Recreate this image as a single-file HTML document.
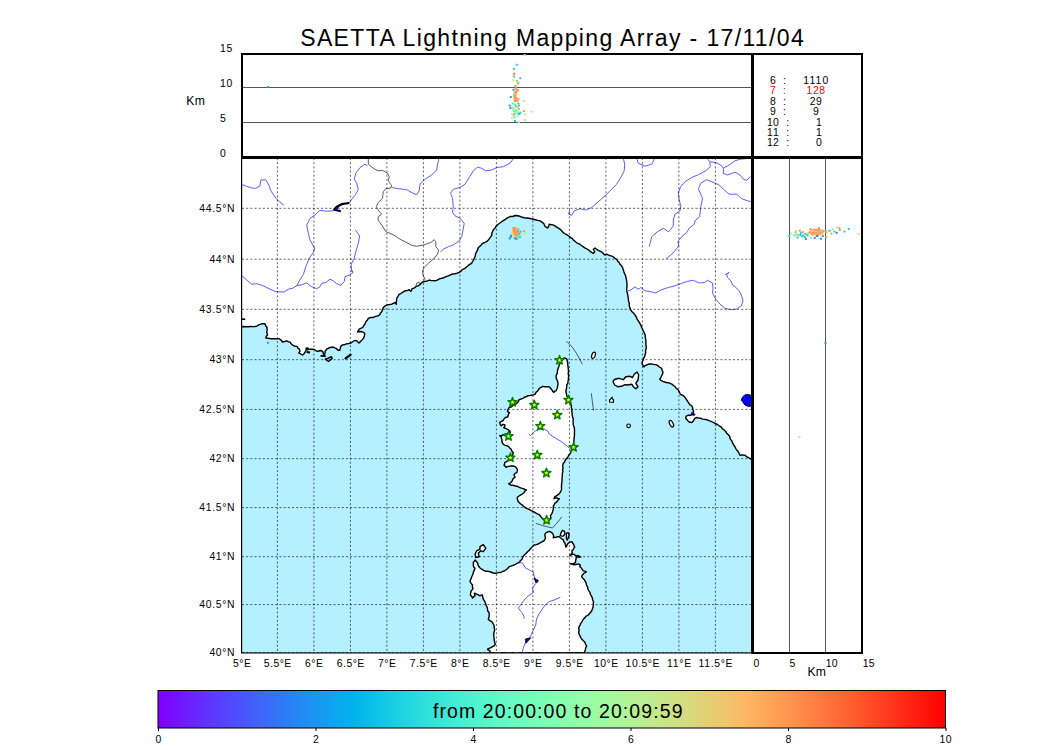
<!DOCTYPE html>
<html><head><meta charset="utf-8"><title>SAETTA Lightning Mapping Array</title>
<style>html,body{margin:0;padding:0;background:#fff;}body{width:1050px;height:750px;overflow:hidden;font-family:"Liberation Sans",sans-serif;}svg{display:block;}text{font-family:"Liberation Sans",sans-serif;fill:#000;}</style></head><body>
<svg width="1050" height="750" viewBox="0 0 1050 750">
<rect width="1050" height="750" fill="#fff"/>
<defs><clipPath id="mapclip"><rect x="242" y="158" width="510" height="495"/></clipPath>
<linearGradient id="rb" x1="0" x2="1" y1="0" y2="0"><stop offset="0.000" stop-color="#8000ff"/><stop offset="0.031" stop-color="#7019ff"/><stop offset="0.062" stop-color="#6032fe"/><stop offset="0.094" stop-color="#504afc"/><stop offset="0.125" stop-color="#4062fa"/><stop offset="0.156" stop-color="#3078f7"/><stop offset="0.188" stop-color="#208ef4"/><stop offset="0.219" stop-color="#10a2f0"/><stop offset="0.250" stop-color="#00b4ec"/><stop offset="0.281" stop-color="#10c5e7"/><stop offset="0.312" stop-color="#20d4e1"/><stop offset="0.344" stop-color="#30e1db"/><stop offset="0.375" stop-color="#40ecd4"/><stop offset="0.406" stop-color="#50f4cd"/><stop offset="0.438" stop-color="#60fac5"/><stop offset="0.469" stop-color="#70febd"/><stop offset="0.500" stop-color="#80ffb4"/><stop offset="0.531" stop-color="#8ffeab"/><stop offset="0.562" stop-color="#9ffaa2"/><stop offset="0.594" stop-color="#aff498"/><stop offset="0.625" stop-color="#bfec8e"/><stop offset="0.656" stop-color="#cfe183"/><stop offset="0.688" stop-color="#dfd478"/><stop offset="0.719" stop-color="#efc56d"/><stop offset="0.750" stop-color="#ffb462"/><stop offset="0.781" stop-color="#ffa256"/><stop offset="0.812" stop-color="#ff8e4a"/><stop offset="0.844" stop-color="#ff783e"/><stop offset="0.875" stop-color="#ff6232"/><stop offset="0.906" stop-color="#ff4a25"/><stop offset="0.938" stop-color="#ff3219"/><stop offset="0.969" stop-color="#ff190d"/><stop offset="1.000" stop-color="#ff0000"/></linearGradient></defs>
<g clip-path="url(#mapclip)">
<rect x="242" y="158" width="510" height="495" fill="#b4f0ff"/>
<path d="M242.0 157.0 L752.0 157.0 L752.0 460.2 L750.3 458.6 L748.3 457.5 L746.5 456.6 L745.0 455.3 L742.5 454.9 L740.0 455.3 L739.1 453.5 L738.3 451.7 L736.9 450.2 L735.8 448.6 L735.0 446.7 L733.6 444.9 L732.6 442.9 L731.7 440.8 L730.2 438.9 L729.8 436.5 L728.3 434.7 L726.7 433.3 L725.7 431.4 L724.2 430.0 L722.5 428.7 L721.1 426.9 L719.2 425.8 L717.4 424.5 L715.3 423.5 L713.3 422.5 L711.2 421.4 L708.9 420.6 L706.7 419.7 L704.7 419.4 L702.7 419.1 L700.8 418.3 L698.7 418.1 L696.7 417.5 L695.3 418.1 L694.2 419.2 L693.3 421.1 L691.7 422.5 L689.9 422.3 L688.3 421.3 L687.1 419.8 L685.8 418.3 L685.8 416.9 L686.7 415.8 L688.7 415.2 L690.8 415.3 L691.8 414.0 L693.3 413.3 L693.6 411.6 L693.0 410.0 L692.6 407.8 L691.7 405.8 L690.2 405.0 L689.2 403.7 L688.0 401.8 L686.7 400.0 L685.5 398.1 L684.2 396.3 L682.3 395.2 L680.3 394.3 L679.6 392.6 L678.8 390.9 L677.8 389.4 L676.1 388.2 L674.9 386.5 L673.3 385.2 L671.8 384.1 L670.0 383.4 L668.3 382.7 L666.4 382.5 L664.6 382.0 L662.8 381.4 L661.1 380.5 L659.8 379.2 L660.8 377.7 L661.5 376.0 L662.5 374.1 L663.0 372.0 L662.1 370.3 L661.7 368.3 L659.4 367.0 L657.5 365.3 L655.6 364.6 L653.6 364.4 L651.7 363.9 L649.1 364.0 L646.7 364.8 L645.1 365.7 L643.9 367.0 L643.0 365.3 L642.0 363.6 L642.3 361.7 L643.3 360.0 L643.7 358.3 L644.6 356.7 L645.0 355.0 L645.7 352.8 L645.5 350.5 L646.2 348.3 L646.2 346.2 L645.7 344.2 L646.0 342.1 L645.8 340.0 L645.4 337.5 L645.1 334.9 L644.2 332.5 L643.2 330.9 L642.6 329.1 L641.7 327.5 L640.8 325.1 L639.6 322.9 L638.3 320.8 L637.0 319.0 L636.3 316.8 L635.0 315.0 L633.7 313.2 L632.0 311.8 L630.8 310.0 L629.9 307.9 L629.2 305.8 L629.3 303.2 L628.4 300.8 L628.3 298.3 L627.9 295.8 L627.4 293.3 L626.7 290.8 L626.7 288.6 L627.0 286.4 L627.0 284.2 L626.8 281.7 L626.3 279.2 L625.8 276.7 L625.3 274.9 L624.4 273.3 L623.8 271.5 L623.2 269.5 L622.5 267.5 L621.6 265.7 L620.0 264.4 L619.2 262.5 L617.7 261.2 L616.7 259.4 L615.0 258.3 L613.1 256.7 L610.8 255.8 L608.7 255.2 L606.7 254.2 L605.0 255.0 L603.6 253.9 L602.5 252.5 L600.5 251.3 L598.3 250.3 L596.6 249.3 L595.0 248.0 L593.3 249.2 L594.0 250.5 L594.7 251.7 L593.3 253.3 L591.6 252.4 L590.0 251.3 L588.1 249.5 L585.8 248.3 L584.1 247.3 L582.4 246.2 L580.8 245.0 L579.3 243.8 L577.5 243.3 L576.1 242.3 L574.7 241.0 L573.3 240.0 L572.2 238.4 L570.5 237.6 L569.2 236.3 L567.9 235.5 L566.7 234.7 L564.4 233.5 L562.5 231.7 L561.2 230.3 L559.9 229.1 L558.3 228.0 L556.5 227.2 L555.0 225.9 L553.3 225.0 L551.2 224.6 L549.2 224.2 L548.7 226.3 L547.5 228.0 L546.2 227.2 L545.0 226.3 L544.3 224.8 L543.7 223.3 L541.8 222.1 L540.0 220.8 L537.7 220.4 L535.5 219.8 L533.3 219.2 L531.1 218.8 L528.9 218.3 L526.7 218.0 L524.4 217.8 L522.1 217.3 L520.0 216.3 L517.5 215.7 L515.0 215.5 L512.9 216.5 L510.4 216.4 L508.3 217.5 L506.5 218.3 L505.1 219.7 L503.3 220.6 L501.7 221.7 L499.6 223.2 L497.5 224.7 L495.8 226.7 L494.8 228.4 L493.3 229.8 L492.5 231.7 L491.8 233.3 L491.8 235.2 L490.8 236.7 L489.6 238.4 L488.3 240.0 L486.9 241.4 L485.1 242.3 L483.3 243.0 L481.8 244.1 L480.7 245.6 L479.2 246.7 L478.0 248.2 L477.6 250.1 L476.7 251.7 L475.5 253.8 L475.3 256.2 L474.2 258.3 L473.6 260.1 L472.4 261.6 L471.7 263.3 L469.6 264.4 L467.7 266.0 L465.8 267.5 L464.7 268.6 L463.3 269.2 L461.8 270.0 L460.8 271.3 L459.0 272.5 L457.1 273.2 L455.0 273.7 L452.6 274.0 L450.5 274.9 L448.3 275.8 L446.1 276.7 L444.0 277.7 L441.7 278.3 L439.4 278.9 L437.3 280.1 L435.0 280.8 L433.1 280.6 L431.1 280.6 L429.2 280.0 L427.3 281.0 L425.4 281.4 L423.3 281.7 L421.4 283.0 L420.0 284.7 L418.0 285.8 L415.8 286.7 L414.1 288.1 L412.0 288.7 L411.7 290.1 L410.8 291.3 L409.2 289.7 L407.2 290.6 L405.0 290.8 L403.4 291.9 L401.7 292.8 L400.6 293.8 L399.2 294.2 L398.0 296.3 L396.7 298.3 L396.6 300.3 L396.3 302.2 L396.3 304.2 L395.0 302.5 L393.3 303.3 L391.7 304.2 L389.2 304.6 L386.7 305.0 L384.9 306.1 L383.3 307.5 L382.6 309.6 L381.7 311.7 L380.5 313.0 L379.8 314.7 L378.3 315.8 L376.6 316.1 L374.9 316.6 L373.3 317.5 L370.7 317.5 L368.3 318.3 L367.3 320.2 L365.8 321.7 L365.3 323.5 L364.1 325.0 L363.3 326.7 L361.4 328.2 L359.2 329.2 L358.3 330.6 L357.5 332.0 L359.6 331.5 L361.7 331.7 L363.3 332.3 L364.7 333.3 L364.4 335.9 L363.5 338.3 L362.0 340.0 L360.5 341.5 L359.0 343.0 L357.9 342.1 L357.0 340.9 L354.8 340.5 L352.9 341.5 L351.0 343.0 L348.7 343.5 L347.1 343.8 L345.6 344.1 L344.2 344.8 L342.6 344.9 L340.7 346.4 L340.3 348.3 L339.9 350.2 L338.0 350.2 L336.5 348.7 L334.2 347.6 L332.9 347.0 L331.5 347.3 L330.2 347.5 L328.9 348.0 L326.6 349.1 L325.9 350.3 L325.0 351.4 L325.1 352.7 L324.7 354.0 L323.9 355.6 L323.5 354.4 L323.1 352.1 L321.6 350.8 L320.3 350.5 L319.0 351.0 L317.6 351.2 L316.3 351.0 L314.4 349.5 L312.1 349.1 L310.6 349.3 L309.0 349.1 L307.7 349.5 L306.4 349.9 L305.2 351.8 L304.1 353.7 L302.6 355.0 L300.7 354.0 L298.8 352.9 L299.9 351.4 L299.5 349.1 L298.0 348.3 L297.2 346.4 L295.3 346.4 L293.0 345.3 L291.1 343.8 L290.0 341.9 L288.2 341.7 L286.7 340.8 L284.6 341.5 L282.5 342.0 L281.1 340.1 L279.2 338.7 L277.2 338.8 L275.3 338.7 L273.3 338.7 L270.8 338.8 L268.3 338.2 L265.8 338.0 L266.3 336.3 L267.5 335.0 L267.3 333.7 L266.7 332.5 L267.1 330.0 L267.0 327.5 L265.7 325.8 L265.0 323.8 L262.9 323.6 L260.8 324.2 L258.6 324.9 L256.7 326.3 L254.6 326.5 L252.5 326.6 L250.4 326.5 L248.3 326.7 L246.2 326.7 L244.1 326.5 L242.0 326.7 Z" fill="#fff" stroke="none"/>
<path d="M242.0 326.7 L244.1 326.5 L246.2 326.7 L248.3 326.7 L250.4 326.5 L252.5 326.6 L254.6 326.5 L256.7 326.3 L258.6 324.9 L260.8 324.2 L262.9 323.6 L265.0 323.8 L265.7 325.8 L267.0 327.5 L267.1 330.0 L266.7 332.5 L267.3 333.7 L267.5 335.0 L266.3 336.3 L265.8 338.0 L268.3 338.2 L270.8 338.8 L273.3 338.7 L275.3 338.7 L277.2 338.8 L279.2 338.7 L281.1 340.1 L282.5 342.0 L284.6 341.5 L286.7 340.8 L288.2 341.7 L290.0 341.9 L291.1 343.8 L293.0 345.3 L295.3 346.4 L297.2 346.4 L298.0 348.3 L299.5 349.1 L299.9 351.4 L298.8 352.9 L300.7 354.0 L302.6 355.0 L304.1 353.7 L305.2 351.8 L306.4 349.9 L307.7 349.5 L309.0 349.1 L310.6 349.3 L312.1 349.1 L314.4 349.5 L316.3 351.0 L317.6 351.2 L319.0 351.0 L320.3 350.5 L321.6 350.8 L323.1 352.1 L323.5 354.4 L323.9 355.6 L324.7 354.0 L325.1 352.7 L325.0 351.4 L325.9 350.3 L326.6 349.1 L328.9 348.0 L330.2 347.5 L331.5 347.3 L332.9 347.0 L334.2 347.6 L336.5 348.7 L338.0 350.2 L339.9 350.2 L340.3 348.3 L340.7 346.4 L342.6 344.9 L344.2 344.8 L345.6 344.1 L347.1 343.8 L348.7 343.5 L351.0 343.0 L352.9 341.5 L354.8 340.5 L357.0 340.9 L357.9 342.1 L359.0 343.0 L360.5 341.5 L362.0 340.0 L363.5 338.3 L364.4 335.9 L364.7 333.3 L363.3 332.3 L361.7 331.7 L359.6 331.5 L357.5 332.0 L358.3 330.6 L359.2 329.2 L361.4 328.2 L363.3 326.7 L364.1 325.0 L365.3 323.5 L365.8 321.7 L367.3 320.2 L368.3 318.3 L370.7 317.5 L373.3 317.5 L374.9 316.6 L376.6 316.1 L378.3 315.8 L379.8 314.7 L380.5 313.0 L381.7 311.7 L382.6 309.6 L383.3 307.5 L384.9 306.1 L386.7 305.0 L389.2 304.6 L391.7 304.2 L393.3 303.3 L395.0 302.5 L396.3 304.2 L396.3 302.2 L396.6 300.3 L396.7 298.3 L398.0 296.3 L399.2 294.2 L400.6 293.8 L401.7 292.8 L403.4 291.9 L405.0 290.8 L407.2 290.6 L409.2 289.7 L410.8 291.3 L411.7 290.1 L412.0 288.7 L414.1 288.1 L415.8 286.7 L418.0 285.8 L420.0 284.7 L421.4 283.0 L423.3 281.7 L425.4 281.4 L427.3 281.0 L429.2 280.0 L431.1 280.6 L433.1 280.6 L435.0 280.8 L437.3 280.1 L439.4 278.9 L441.7 278.3 L444.0 277.7 L446.1 276.7 L448.3 275.8 L450.5 274.9 L452.6 274.0 L455.0 273.7 L457.1 273.2 L459.0 272.5 L460.8 271.3 L461.8 270.0 L463.3 269.2 L464.7 268.6 L465.8 267.5 L467.7 266.0 L469.6 264.4 L471.7 263.3 L472.4 261.6 L473.6 260.1 L474.2 258.3 L475.3 256.2 L475.5 253.8 L476.7 251.7 L477.6 250.1 L478.0 248.2 L479.2 246.7 L480.7 245.6 L481.8 244.1 L483.3 243.0 L485.1 242.3 L486.9 241.4 L488.3 240.0 L489.6 238.4 L490.8 236.7 L491.8 235.2 L491.8 233.3 L492.5 231.7 L493.3 229.8 L494.8 228.4 L495.8 226.7 L497.5 224.7 L499.6 223.2 L501.7 221.7 L503.3 220.6 L505.1 219.7 L506.5 218.3 L508.3 217.5 L510.4 216.4 L512.9 216.5 L515.0 215.5 L517.5 215.7 L520.0 216.3 L522.1 217.3 L524.4 217.8 L526.7 218.0 L528.9 218.3 L531.1 218.8 L533.3 219.2 L535.5 219.8 L537.7 220.4 L540.0 220.8 L541.8 222.1 L543.7 223.3 L544.3 224.8 L545.0 226.3 L546.2 227.2 L547.5 228.0 L548.7 226.3 L549.2 224.2 L551.2 224.6 L553.3 225.0 L555.0 225.9 L556.5 227.2 L558.3 228.0 L559.9 229.1 L561.2 230.3 L562.5 231.7 L564.4 233.5 L566.7 234.7 L567.9 235.5 L569.2 236.3 L570.5 237.6 L572.2 238.4 L573.3 240.0 L574.7 241.0 L576.1 242.3 L577.5 243.3 L579.3 243.8 L580.8 245.0 L582.4 246.2 L584.1 247.3 L585.8 248.3 L588.1 249.5 L590.0 251.3 L591.6 252.4 L593.3 253.3 L594.7 251.7 L594.0 250.5 L593.3 249.2 L595.0 248.0 L596.6 249.3 L598.3 250.3 L600.5 251.3 L602.5 252.5 L603.6 253.9 L605.0 255.0 L606.7 254.2 L608.7 255.2 L610.8 255.8 L613.1 256.7 L615.0 258.3 L616.7 259.4 L617.7 261.2 L619.2 262.5 L620.0 264.4 L621.6 265.7 L622.5 267.5 L623.2 269.5 L623.8 271.5 L624.4 273.3 L625.3 274.9 L625.8 276.7 L626.3 279.2 L626.8 281.7 L627.0 284.2 L627.0 286.4 L626.7 288.6 L626.7 290.8 L627.4 293.3 L627.9 295.8 L628.3 298.3 L628.4 300.8 L629.3 303.2 L629.2 305.8 L629.9 307.9 L630.8 310.0 L632.0 311.8 L633.7 313.2 L635.0 315.0 L636.3 316.8 L637.0 319.0 L638.3 320.8 L639.6 322.9 L640.8 325.1 L641.7 327.5 L642.6 329.1 L643.2 330.9 L644.2 332.5 L645.1 334.9 L645.4 337.5 L645.8 340.0 L646.0 342.1 L645.7 344.2 L646.2 346.2 L646.2 348.3 L645.5 350.5 L645.7 352.8 L645.0 355.0 L644.6 356.7 L643.7 358.3 L643.3 360.0 L642.3 361.7 L642.0 363.6 L643.0 365.3 L643.9 367.0 L645.1 365.7 L646.7 364.8 L649.1 364.0 L651.7 363.9 L653.6 364.4 L655.6 364.6 L657.5 365.3 L659.4 367.0 L661.7 368.3 L662.1 370.3 L663.0 372.0 L662.5 374.1 L661.5 376.0 L660.8 377.7 L659.8 379.2 L661.1 380.5 L662.8 381.4 L664.6 382.0 L666.4 382.5 L668.3 382.7 L670.0 383.4 L671.8 384.1 L673.3 385.2 L674.9 386.5 L676.1 388.2 L677.8 389.4 L678.8 390.9 L679.6 392.6 L680.3 394.3 L682.3 395.2 L684.2 396.3 L685.5 398.1 L686.7 400.0 L688.0 401.8 L689.2 403.7 L690.2 405.0 L691.7 405.8 L692.6 407.8 L693.0 410.0 L693.6 411.6 L693.3 413.3 L691.8 414.0 L690.8 415.3 L688.7 415.2 L686.7 415.8 L685.8 416.9 L685.8 418.3 L687.1 419.8 L688.3 421.3 L689.9 422.3 L691.7 422.5 L693.3 421.1 L694.2 419.2 L695.3 418.1 L696.7 417.5 L698.7 418.1 L700.8 418.3 L702.7 419.1 L704.7 419.4 L706.7 419.7 L708.9 420.6 L711.2 421.4 L713.3 422.5 L715.3 423.5 L717.4 424.5 L719.2 425.8 L721.1 426.9 L722.5 428.7 L724.2 430.0 L725.7 431.4 L726.7 433.3 L728.3 434.7 L729.8 436.5 L730.2 438.9 L731.7 440.8 L732.6 442.9 L733.6 444.9 L735.0 446.7 L735.8 448.6 L736.9 450.2 L738.3 451.7 L739.1 453.5 L740.0 455.3 L742.5 454.9 L745.0 455.3 L746.5 456.6 L748.3 457.5 L750.3 458.6 L752.0 460.2" fill="none" stroke="#000" stroke-width="1.4" stroke-linejoin="round"/>
<path d="M564.0 358.0 L566.4 358.7 L567.2 360.6 L567.7 362.7 L567.8 364.9 L568.1 367.1 L568.3 369.3 L568.5 371.5 L568.2 373.8 L568.7 376.0 L568.4 377.8 L568.4 379.6 L568.0 381.3 L567.8 383.2 L566.8 384.8 L566.7 386.7 L566.5 388.5 L566.0 390.2 L566.0 392.0 L566.5 394.0 L566.7 396.0 L567.9 397.2 L568.7 398.7 L569.3 400.5 L569.8 402.3 L570.7 404.0 L571.4 405.7 L571.3 407.6 L572.0 409.3 L571.8 411.3 L572.1 413.3 L572.2 415.3 L572.7 417.3 L573.3 419.1 L573.0 421.0 L573.2 422.9 L573.3 424.9 L574.0 426.7 L574.5 428.9 L574.5 431.1 L574.4 433.3 L574.5 435.5 L574.1 437.8 L574.0 440.0 L573.8 442.2 L573.6 444.5 L573.3 446.7 L572.1 448.6 L571.3 450.7 L570.8 452.5 L569.9 454.0 L568.7 455.3 L567.8 457.1 L566.7 458.6 L565.3 460.0 L564.6 461.9 L563.3 463.3 L562.7 465.6 L563.0 468.0 L562.5 469.7 L563.0 471.6 L562.4 473.3 L562.3 475.1 L562.3 476.9 L562.0 478.7 L562.0 480.5 L561.9 482.2 L561.6 484.0 L561.5 485.8 L561.5 487.5 L561.6 489.3 L560.9 491.1 L560.0 492.7 L559.2 493.9 L558.0 494.7 L556.4 495.8 L554.7 496.7 L554.0 498.7 L555.3 498.0 L556.7 498.0 L558.0 498.4 L559.3 498.7 L558.1 499.9 L557.3 501.3 L556.1 502.4 L554.7 503.3 L554.3 504.8 L553.3 506.0 L553.4 508.0 L553.0 510.0 L552.6 511.7 L552.0 513.3 L551.2 514.5 L550.5 515.7 L550.8 518.0 L549.7 519.1 L549.0 520.5 L547.5 521.0 L546.0 521.2 L544.9 520.2 L543.5 519.7 L542.5 518.4 L541.3 517.3 L540.3 516.0 L539.3 514.7 L537.2 513.8 L535.3 512.7 L533.3 511.7 L531.3 510.7 L529.4 509.5 L527.3 508.7 L525.6 507.8 L524.0 506.7 L522.5 505.2 L520.7 504.0 L519.3 502.7 L518.0 501.3 L517.4 499.3 L517.3 497.3 L518.7 496.3 L520.0 495.3 L522.1 494.1 L524.0 492.7 L524.9 491.1 L526.4 490.0 L524.8 489.4 L523.3 488.7 L521.3 488.1 L519.3 487.3 L517.4 486.3 L515.3 486.0 L513.4 485.3 L511.3 485.3 L509.9 484.6 L508.7 483.7 L510.2 483.1 L511.3 482.0 L512.2 480.8 L512.7 479.3 L513.7 478.1 L515.0 477.3 L514.5 476.0 L514.0 474.7 L515.1 473.4 L516.7 472.7 L517.3 471.0 L517.3 469.3 L516.4 467.9 L515.3 466.7 L513.1 466.0 L510.7 466.0 L508.3 466.4 L506.0 467.3 L505.1 466.2 L504.0 465.3 L504.6 464.1 L504.7 462.7 L506.7 461.4 L508.7 460.0 L510.1 458.1 L512.0 456.7 L512.7 454.7 L513.3 452.7 L511.9 451.2 L511.3 449.3 L509.8 448.2 L508.7 446.7 L507.1 445.8 L505.3 445.3 L503.7 444.6 L502.5 443.3 L501.9 441.6 L502.0 439.7 L501.3 438.3 L501.3 436.7 L499.7 435.7 L501.4 435.7 L503.0 435.0 L504.9 434.2 L507.0 434.0 L508.5 433.0 L510.3 432.7 L510.0 431.3 L508.3 429.7 L506.0 428.7 L503.7 427.7 L504.7 426.7 L505.0 425.0 L503.0 424.3 L501.3 425.7 L500.3 424.7 L499.7 422.3 L501.0 421.7 L503.0 420.7 L504.0 419.0 L505.7 417.3 L507.7 417.0 L508.3 414.7 L509.3 412.7 L507.7 411.7 L508.0 409.3 L509.3 407.3 L510.8 407.1 L512.0 406.3 L513.4 405.0 L515.3 404.6 L516.7 403.3 L518.3 401.7 L519.0 399.7 L520.5 399.3 L522.0 398.7 L523.5 398.1 L524.7 397.0 L526.5 396.7 L528.0 395.7 L529.7 395.6 L531.3 395.3 L533.4 394.9 L535.3 394.0 L536.0 392.4 L537.3 391.3 L538.5 389.9 L539.3 388.3 L541.0 387.4 L542.7 386.4 L544.7 386.7 L546.7 386.7 L548.4 386.7 L550.0 387.3 L550.8 388.8 L552.0 390.0 L552.7 391.4 L554.0 392.3 L554.9 391.2 L556.3 390.7 L556.7 389.3 L557.3 388.0 L557.7 386.0 L558.0 384.0 L557.8 381.9 L557.0 380.0 L556.3 378.4 L556.0 376.7 L556.4 374.9 L557.3 373.3 L557.4 371.0 L558.0 368.7 L558.7 366.7 L559.3 364.7 L560.5 363.1 L561.3 361.3 L562.6 359.6 Z" fill="#fff" stroke="#000" stroke-width="1.4" stroke-linejoin="round"/>
<path d="M546.2 532.6 L547.8 531.9 L549.5 531.4 L550.9 532.2 L552.3 533.1 L553.1 534.4 L553.7 535.9 L553.2 537.7 L554.6 537.4 L556.0 537.3 L557.6 536.7 L559.3 536.8 L560.4 537.8 L561.6 538.7 L563.5 540.1 L563.8 541.7 L564.9 542.9 L565.4 545.0 L565.8 547.1 L566.7 546.0 L567.2 544.7 L568.1 543.3 L569.5 542.4 L571.9 541.7 L572.7 543.2 L573.7 544.5 L574.0 545.9 L574.7 547.1 L573.9 548.2 L573.3 549.4 L571.9 550.8 L572.3 552.7 L571.4 553.8 L570.5 555.0 L569.7 555.9 L571.0 555.0 L572.3 554.1 L574.2 554.5 L576.1 555.9 L578.4 555.5 L579.5 556.3 L580.7 556.9 L578.9 557.3 L577.5 556.9 L576.1 557.3 L576.2 558.8 L575.6 560.1 L575.7 561.6 L575.1 562.9 L573.3 563.9 L571.6 563.7 L570.0 563.9 L572.3 564.3 L573.9 564.8 L575.6 564.6 L577.0 564.3 L578.4 563.9 L580.3 564.8 L579.8 566.7 L580.8 567.6 L581.7 568.5 L582.4 569.8 L583.5 570.9 L585.0 571.1 L586.3 571.8 L585.3 572.7 L584.0 573.2 L583.2 574.3 L582.1 575.1 L581.7 576.9 L582.5 577.9 L583.5 578.8 L584.6 580.1 L585.4 581.6 L586.1 582.9 L586.3 584.4 L586.8 585.9 L587.7 587.2 L587.8 589.0 L588.7 590.5 L589.9 592.4 L590.5 594.6 L591.7 596.5 L592.4 598.1 L592.6 599.9 L593.5 601.5 L593.3 603.3 L593.4 605.2 L593.0 607.0 L592.5 608.8 L591.9 610.5 L590.8 612.0 L589.6 613.5 L588.3 615.0 L587.1 615.7 L585.8 616.3 L584.8 617.9 L583.3 619.2 L582.2 621.3 L580.8 623.3 L580.2 625.0 L579.2 626.5 L578.7 628.3 L579.2 630.2 L578.6 632.3 L579.2 634.2 L580.0 635.9 L580.8 637.6 L581.7 639.2 L583.4 640.8 L585.0 642.5 L585.6 644.3 L586.7 645.8 L585.7 647.8 L585.3 650.0 L584.7 651.5 L584.2 653.0 L581.7 653.0 L579.1 652.8 L576.6 652.7 L574.0 653.1 L571.5 652.8 L568.9 652.6 L566.4 653.0 L563.8 653.2 L561.3 653.2 L558.7 652.8 L556.2 652.8 L553.6 652.6 L551.1 652.7 L548.6 653.2 L546.0 653.3 L543.5 653.2 L540.9 653.3 L538.4 652.8 L535.8 652.7 L533.3 652.6 L530.7 653.2 L528.2 652.7 L525.6 653.2 L523.1 653.1 L520.6 652.8 L518.0 653.4 L515.5 653.4 L512.9 652.7 L510.4 653.2 L507.8 653.1 L505.3 652.9 L502.7 652.8 L500.2 653.4 L497.6 653.1 L495.1 653.1 L492.5 653.0 L490.0 653.0 L490.0 650.8 L488.6 650.2 L487.5 649.2 L489.2 648.3 L490.9 647.6 L492.5 646.7 L494.2 645.8 L495.3 644.2 L494.7 642.1 L494.2 640.0 L494.0 637.5 L493.7 635.0 L493.9 632.4 L494.7 630.0 L494.2 627.9 L494.2 625.8 L493.1 623.7 L491.7 621.7 L489.8 620.7 L488.3 619.2 L489.1 616.8 L489.2 614.2 L489.0 612.4 L487.7 611.0 L487.5 609.2 L487.3 607.4 L486.3 605.9 L485.8 604.2 L485.2 602.4 L484.3 600.8 L483.3 599.2 L482.7 597.1 L482.5 595.0 L481.2 595.2 L480.0 595.8 L478.4 594.9 L476.7 594.2 L475.5 593.5 L474.2 593.3 L474.8 594.5 L475.0 595.8 L473.6 596.7 L472.5 598.0 L471.7 596.3 L470.3 595.0 L470.7 593.4 L470.8 591.7 L471.9 590.1 L473.0 588.5 L472.4 586.8 L472.5 585.0 L471.2 583.4 L470.0 581.7 L470.4 580.0 L471.3 578.4 L471.7 576.7 L472.7 574.7 L473.3 572.5 L474.2 570.4 L475.0 568.3 L473.9 567.2 L473.3 565.8 L473.4 564.1 L473.3 562.5 L474.2 561.3 L475.0 560.0 L476.7 561.7 L477.8 563.6 L478.3 565.8 L479.8 567.7 L481.7 569.2 L483.7 570.4 L485.8 571.3 L488.3 571.3 L490.8 572.0 L493.2 573.0 L495.8 573.3 L498.2 572.6 L500.8 572.5 L502.4 571.5 L504.2 571.0 L505.8 570.0 L507.6 568.4 L509.2 566.7 L510.9 566.2 L512.6 565.7 L514.2 565.0 L515.8 564.1 L517.5 563.2 L519.2 562.5 L520.4 560.7 L522.0 559.2 L522.8 556.9 L524.2 555.0 L526.0 553.5 L527.5 551.7 L529.3 550.2 L530.8 548.3 L532.5 546.7 L534.2 545.0 L536.3 544.7 L538.3 544.0 L539.6 543.1 L541.1 542.4 L542.4 541.5 L543.9 541.0 L544.5 539.8 L545.3 538.7 L545.4 537.0 L544.8 535.4 L545.1 533.8 Z" fill="#fff" stroke="#000" stroke-width="1.4" stroke-linejoin="round"/>
<path d="M613.3 380.8 L615.0 379.2 L619.2 378.3 L623.3 379.7 L625.8 376.7 L630.0 376.3 L632.5 377.5 L634.2 374.2 L637.0 372.0 L638.7 375.0 L638.0 380.0 L635.8 383.3 L638.0 386.7 L635.8 388.7 L633.3 386.7 L631.7 384.2 L627.5 385.0 L625.0 384.7 L621.7 386.3 L617.5 386.7 L614.7 385.0 L613.3 382.5 Z" fill="#fff" stroke="#000" stroke-width="1.4" stroke-linejoin="round"/>
<path d="M480.0 546.7 L483.3 544.7 L485.8 548.3 L483.3 551.7 L480.8 550.8 L478.3 553.3 L479.2 556.7 L475.8 557.5 L475.0 554.2 L476.7 550.8 L480.0 549.2 Z" fill="#fff" stroke="#000" stroke-width="1.4" stroke-linejoin="round"/>
<path d="M560.2 535.4 L561.1 532.6 L562.5 530.3 L564.4 531.2 L564.9 534.0 L563.5 535.9 L561.6 536.1 Z" fill="#fff" stroke="#000" stroke-width="1.4" stroke-linejoin="round"/>
<path d="M566.3 533.1 L568.1 532.6 L569.1 534.9 L568.1 538.2 L567.2 540.1 L566.3 537.7 L566.5 535.4 Z" fill="#fff" stroke="#000" stroke-width="1.4" stroke-linejoin="round"/>
<ellipse cx="593.5" cy="355.3" rx="1.7" ry="3.3" transform="rotate(18 593.5 355.3)" fill="#fff" stroke="#000" stroke-width="1.2"/>
<ellipse cx="671.4" cy="423.8" rx="1.7" ry="3.6" transform="rotate(-25 671.4 423.8)" fill="#fff" stroke="#000" stroke-width="1.2"/>
<circle cx="628.6" cy="425.8" r="1.8" fill="#fff" stroke="#000" stroke-width="1.2"/>
<path d="M609.6 402 L613.2 402.3 L613.6 400 L612 398.3 L612 397.5 L611.2 398.3 L609.6 400 Z" fill="#fff" stroke="#000" stroke-width="1.2"/>
<path d="M320.6 355.9 L325.8 356.1" stroke="#000" stroke-width="1.7" fill="none"/>
<path d="M325.2 359.2 L328.1 358.2 L331.5 356.7 L332.3 358.2 L330.4 360.1 L328.5 361.5 L326.6 360.1 Z" fill="#9aa" stroke="#000" stroke-width="1.3" stroke-linejoin="round"/>
<path d="M345.6 358.4 L350.6 354.8" stroke="#000" stroke-width="2.3" stroke-linecap="round" fill="none"/>
<path d="M305.4 348.5 L308.6 348.3 M306.6 352 L310 352.6" stroke="#000" stroke-width="2" fill="none"/>
<path d="M242 319.2 L245.2 319.2" stroke="#000" stroke-width="1.6" fill="none"/>
<path d="M242.0 184.7 L246.7 186.3 L251.7 188.0 L255.8 188.3 L260.0 185.8 L260.8 180.0 L265.8 179.7 L269.2 185.8 L270.8 190.8 L276.7 199.2 L284.2 205.5" fill="none" stroke="#4a4aff" stroke-width="0.9" stroke-linejoin="round"/>
<path d="M367.5 165.8 L365.0 164.2 L360.0 167.5 L355.8 173.3 L354.2 179.2 L356.7 183.3 L358.3 189.2 L355.8 194.2 L352.5 198.3 L349.2 203.0" fill="none" stroke="#4a4aff" stroke-width="0.9" stroke-linejoin="round"/>
<path d="M334.2 210.3 L333.3 210.8 L326.7 211.3 L320.0 210.3 L315.0 215.0 L310.0 218.3 L306.7 225.0 L308.3 233.3 L310.0 240.0 L314.7 248.3 L313.3 252.5 L309.2 258.3 L305.8 266.7 L303.3 274.7 L300.8 278.3 L296.7 285.8" fill="none" stroke="#4a4aff" stroke-width="0.9" stroke-linejoin="round"/>
<path d="M355.3 230.0 L359.7 235.8 L358.3 243.3 L355.8 251.7 L354.2 258.3 L351.2 264.2 L351.7 271.7 L353.0 272.5" fill="none" stroke="#4a4aff" stroke-width="0.9" stroke-linejoin="round"/>
<path d="M391.7 187.5 L398.3 188.7 L406.7 189.7 L412.5 193.0 L416.7 194.7 L419.2 190.8 L420.0 184.2 L425.0 179.2 L431.7 175.0 L436.7 170.0 L437.5 164.2 L438.7 160.0 L438.0 158.0" fill="none" stroke="#4a4aff" stroke-width="0.9" stroke-linejoin="round"/>
<path d="M513.8 158.0 L510.0 163.3 L503.3 166.7 L496.7 167.5 L491.7 170.0 L485.8 170.8 L481.7 168.3 L477.5 167.2 L473.3 170.8 L469.2 177.5 L465.0 184.2 L460.0 187.5 L453.3 189.2 L450.5 193.3 L452.5 198.3 L453.3 206.7 L452.5 212.5 L455.0 215.8 L460.0 218.3 L464.2 223.3 L463.0 230.0 L461.7 236.7 L459.2 240.8 L453.3 245.0 L448.3 246.7 L443.3 249.2 L440.5 252.0" fill="none" stroke="#4a4aff" stroke-width="0.9" stroke-linejoin="round"/>
<path d="M623.3 158.0 L624.7 164.2 L624.2 170.8 L620.8 177.5 L616.7 184.2 L610.8 190.0 L605.0 195.8 L598.3 201.7 L591.7 207.5 L585.8 210.0 L580.0 208.7 L574.2 210.8 L571.7 215.3 L568.7 214.2 L569.7 210.0" fill="none" stroke="#4a4aff" stroke-width="0.9" stroke-linejoin="round"/>
<path d="M636.7 158.0 L638.3 163.3 L645.0 166.2 L651.7 164.2 L655.0 158.0" fill="none" stroke="#4a4aff" stroke-width="0.9" stroke-linejoin="round"/>
<path d="M706.7 158.0 L709.7 161.7 L710.3 166.7 L705.8 170.8 L698.3 174.7 L691.7 177.5 L685.0 181.7 L680.8 186.7 L678.3 192.5 L679.2 200.0 L680.8 205.8 L680.0 210.8 L675.0 214.2 L673.3 220.0 L673.3 225.8 L668.7 231.7 L663.3 228.3 L657.5 231.7 L651.7 236.7 L650.3 242.5 L649.2 246.7" fill="none" stroke="#4a4aff" stroke-width="0.9" stroke-linejoin="round"/>
<path d="M709.7 161.7 L715.8 162.5 L720.8 165.0 L723.3 168.3 L729.2 165.0 L735.0 160.8 L740.0 159.2 L747.5 158.5" fill="none" stroke="#4a4aff" stroke-width="0.9" stroke-linejoin="round"/>
<path d="M723.3 168.3 L723.3 173.3 L727.5 175.0 L735.0 172.2 L740.0 175.0 L743.3 179.2 L746.7 180.3 L750.8 176.3" fill="none" stroke="#4a4aff" stroke-width="0.9" stroke-linejoin="round"/>
<path d="M750.8 201.7 L746.7 200.5 L741.7 198.7 L736.7 194.2 L729.2 194.2 L723.3 189.2 L719.2 185.0 L711.7 181.7 L706.3 179.7 L700.8 183.3 L698.3 188.7 L700.8 194.2 L702.5 198.3 L700.8 206.7 L699.7 216.7 L695.0 220.8 L694.2 224.2 L689.2 228.3 L686.7 232.5 L681.7 236.7 L678.0 241.3 L678.7 245.8 L675.0 250.8 L670.0 255.8 L665.8 259.2" fill="none" stroke="#4a4aff" stroke-width="0.9" stroke-linejoin="round"/>
<path d="M725.0 274.7 L729.2 272.5 L726.7 274.2 L727.5 277.5 L730.8 280.8 L732.5 285.0 L735.0 286.7 L739.2 290.8 L741.3 295.0 L743.0 300.8 L741.3 305.8 L737.5 308.7 L733.3 309.7 L730.0 309.5 L725.0 308.3 L720.0 304.2 L715.8 299.2 L712.5 293.3 L713.0 288.3 L712.5 283.0 L707.5 280.3 L704.2 282.5 L699.2 283.0 L693.3 280.3 L687.5 281.3 L681.7 283.3 L675.0 285.8 L668.3 287.5 L660.8 290.0 L655.8 293.0 L650.8 291.7 L645.0 290.8 L640.8 287.5 L638.3 289.2 L635.0 287.0 L630.8 290.0 L626.7 291.3" fill="none" stroke="#4a4aff" stroke-width="0.9" stroke-linejoin="round"/>
<path d="M242.0 275.8 L246.7 280.0 L251.7 284.2 L256.7 283.7 L263.3 285.8 L270.0 289.2 L275.8 291.7 L284.2 292.0 L288.3 289.2 L292.5 288.3 L296.7 285.8 L301.7 284.7 L306.7 283.0 L311.7 286.7 L316.7 288.7 L320.0 286.7 L321.7 283.3 L325.8 282.5 L330.0 279.2 L333.3 280.8 L336.7 283.7 L340.8 285.3 L344.2 281.7 L345.0 276.7 L350.0 275.0 L353.0 272.5 L351.7 270.0" fill="none" stroke="#4a4aff" stroke-width="0.9" stroke-linejoin="round"/>
<path d="M528.7 434.0 L530.7 435.7 L534.7 431.3 L538.7 429.3 L544.0 429.0 L548.0 431.3 L549.3 434.0 L554.0 437.3 L560.0 440.7 L565.3 444.7 L569.3 448.0 L572.0 448.7" fill="none" stroke="#4a4aff" stroke-width="0.9" stroke-linejoin="round"/>
<path d="M519.2 562.5 L522.5 563.0 L525.0 567.5 L529.2 570.0 L533.3 572.0 L534.2 576.7 L535.3 579.2 L535.8 583.3 L532.5 588.3 L533.3 592.5 L528.3 595.8 L524.2 600.0 L520.0 605.8 L518.3 608.0 L521.7 612.5 L524.2 616.7 L523.7 618.7" fill="none" stroke="#4a4aff" stroke-width="0.9" stroke-linejoin="round"/>
<path d="M560.3 597.2 L555.0 599.7 L549.2 601.7 L545.0 605.0 L541.7 610.0 L538.3 615.0 L536.3 620.0 L535.8 625.0 L533.3 630.0 L530.8 635.8 L528.3 639.2 L525.0 643.3 L523.3 648.3 L522.0 653.0" fill="none" stroke="#4a4aff" stroke-width="0.9" stroke-linejoin="round"/>
<path d="M368.3 158.0 L368.3 164.2 L373.3 168.3 L378.3 170.8 L382.5 170.3 L387.5 173.3 L389.2 176.7 L388.3 180.8 L391.7 185.8 L390.8 188.0 L385.8 188.7 L383.3 191.7 L382.5 198.3 L378.3 202.5 L376.3 206.7 L378.7 210.8 L381.7 214.2 L378.3 216.7 L378.0 220.0 L381.7 225.0 L385.8 231.7 L390.0 233.3 L395.0 235.8 L400.0 239.2 L405.0 241.7 L411.7 245.3 L416.7 246.3 L423.3 245.0 L430.8 242.5 L434.2 239.7 L435.8 241.7 L435.8 246.7 L438.7 250.0 L437.5 254.2 L433.3 259.2 L428.3 263.3 L424.2 267.5 L422.5 270.8 L423.0 275.0 L425.0 279.2 L423.3 281.7" fill="none" stroke="#333" stroke-width="0.8" stroke-linejoin="round"/>
<path d="M415.8 286.7 L416.7 283.0 L419.2 282.5 L420.0 284.7" fill="none" stroke="#333" stroke-width="0.8" stroke-linejoin="round"/>
<path d="M566.4 341.3 L572.0 346.7 L577.3 354.7 L582.4 364.3" fill="none" stroke="#333" stroke-width="0.8" stroke-linejoin="round"/>
<path d="M591.3 393.3 L592.3 401.3 L593.6 410.7" fill="none" stroke="#333" stroke-width="0.8" stroke-linejoin="round"/>
<path d="M535.8 523.3 L543.3 525.8 L552.5 528.0 L556.7 523.3 L562.0 516.7" fill="none" stroke="#333" stroke-width="0.8" stroke-linejoin="round"/>
<path d="M349.2 203 L341.7 204.2 L336.7 206.7 L334.2 209.7 L336.7 210.3 L340.8 211.3" fill="none" stroke="#000" stroke-width="2.2" stroke-linejoin="round"/>
<path d="M334.6 209.6 L337 206.9 L339 207 L336.8 209.9 Z" fill="#0000c0"/>
<path d="M741.3 400.5 L742.3 397.3 L744.5 395.2 L747.4 394.4 L750 395 L752 396 L752 405.5 L750 406.3 L747.5 406.2 L745 405 L743.5 403 L742.5 401.5 Z" fill="#0000ff" stroke="#000" stroke-width="1"/>
<path d="M691.9 411.9 L695.2 414.3 L694 415.8 L691.7 414.8 Z" fill="#0000d0" stroke="#000" stroke-width="0.6"/>
<path d="M534.2 577.8 L536.3 579.5 L538.3 580.3 L537.3 582.5 L535.5 582 Z" fill="#0000c0" stroke="#000" stroke-width="0.8"/>
<path d="M525.3 639 L530.8 637.8 L528.5 640.5 L526 643.3 Z" fill="#0000c0" stroke="#000" stroke-width="0.8"/>
<line x1="277.4" y1="158" x2="277.4" y2="653" stroke="#000" stroke-opacity="0.72" stroke-width="0.85" stroke-dasharray="2.08 2.08"/>
<line x1="313.9" y1="158" x2="313.9" y2="653" stroke="#000" stroke-opacity="0.72" stroke-width="0.85" stroke-dasharray="2.08 2.08"/>
<line x1="350.4" y1="158" x2="350.4" y2="653" stroke="#000" stroke-opacity="0.72" stroke-width="0.85" stroke-dasharray="2.08 2.08"/>
<line x1="386.9" y1="158" x2="386.9" y2="653" stroke="#000" stroke-opacity="0.72" stroke-width="0.85" stroke-dasharray="2.08 2.08"/>
<line x1="423.4" y1="158" x2="423.4" y2="653" stroke="#000" stroke-opacity="0.72" stroke-width="0.85" stroke-dasharray="2.08 2.08"/>
<line x1="459.9" y1="158" x2="459.9" y2="653" stroke="#000" stroke-opacity="0.72" stroke-width="0.85" stroke-dasharray="2.08 2.08"/>
<line x1="496.4" y1="158" x2="496.4" y2="653" stroke="#000" stroke-opacity="0.72" stroke-width="0.85" stroke-dasharray="2.08 2.08"/>
<line x1="532.9" y1="158" x2="532.9" y2="653" stroke="#000" stroke-opacity="0.72" stroke-width="0.85" stroke-dasharray="2.08 2.08"/>
<line x1="569.4" y1="158" x2="569.4" y2="653" stroke="#000" stroke-opacity="0.72" stroke-width="0.85" stroke-dasharray="2.08 2.08"/>
<line x1="605.9" y1="158" x2="605.9" y2="653" stroke="#000" stroke-opacity="0.72" stroke-width="0.85" stroke-dasharray="2.08 2.08"/>
<line x1="642.4" y1="158" x2="642.4" y2="653" stroke="#000" stroke-opacity="0.72" stroke-width="0.85" stroke-dasharray="2.08 2.08"/>
<line x1="678.9" y1="158" x2="678.9" y2="653" stroke="#000" stroke-opacity="0.72" stroke-width="0.85" stroke-dasharray="2.08 2.08"/>
<line x1="715.4" y1="158" x2="715.4" y2="653" stroke="#000" stroke-opacity="0.72" stroke-width="0.85" stroke-dasharray="2.08 2.08"/>
<line x1="242" y1="208.3" x2="752" y2="208.3" stroke="#000" stroke-opacity="0.72" stroke-width="0.85" stroke-dasharray="2.08 2.08"/>
<line x1="242" y1="259.2" x2="752" y2="259.2" stroke="#000" stroke-opacity="0.72" stroke-width="0.85" stroke-dasharray="2.08 2.08"/>
<line x1="242" y1="309.3" x2="752" y2="309.3" stroke="#000" stroke-opacity="0.72" stroke-width="0.85" stroke-dasharray="2.08 2.08"/>
<line x1="242" y1="359.7" x2="752" y2="359.7" stroke="#000" stroke-opacity="0.72" stroke-width="0.85" stroke-dasharray="2.08 2.08"/>
<line x1="242" y1="409.4" x2="752" y2="409.4" stroke="#000" stroke-opacity="0.72" stroke-width="0.85" stroke-dasharray="2.08 2.08"/>
<line x1="242" y1="458.7" x2="752" y2="458.7" stroke="#000" stroke-opacity="0.72" stroke-width="0.85" stroke-dasharray="2.08 2.08"/>
<line x1="242" y1="507.6" x2="752" y2="507.6" stroke="#000" stroke-opacity="0.72" stroke-width="0.85" stroke-dasharray="2.08 2.08"/>
<line x1="242" y1="556.7" x2="752" y2="556.7" stroke="#000" stroke-opacity="0.72" stroke-width="0.85" stroke-dasharray="2.08 2.08"/>
<line x1="242" y1="604.6" x2="752" y2="604.6" stroke="#000" stroke-opacity="0.72" stroke-width="0.85" stroke-dasharray="2.08 2.08"/>
<line x1="242" y1="652.6" x2="752" y2="652.6" stroke="#000" stroke-opacity="0.72" stroke-width="0.85" stroke-dasharray="2.08 2.08"/>
</g>
<g><rect x="508.8" y="237.6" width="2.0" height="2.0" rx="0.5" fill="#1a96f3"/><rect x="509.7" y="235.7" width="2.0" height="2.0" rx="0.5" fill="#1a96f3"/><rect x="510.2" y="234.6" width="2.0" height="2.0" rx="0.5" fill="#1a96f3"/><rect x="513.8" y="237.3" width="2.0" height="2.0" rx="0.5" fill="#1a96f3"/><rect x="515.4" y="238.0" width="2.0" height="2.0" rx="0.5" fill="#1a96f3"/><rect x="510.9" y="232.8" width="2.0" height="2.0" rx="0.5" fill="#b2f296"/><rect x="512.3" y="235.0" width="2.0" height="2.0" rx="0.5" fill="#b2f296"/><rect x="520.4" y="233.5" width="2.0" height="2.0" rx="0.5" fill="#b2f296"/><rect x="524.0" y="232.6" width="2.0" height="2.0" rx="0.5" fill="#b2f296"/><rect x="523.5" y="230.7" width="2.0" height="2.0" rx="0.5" fill="#b2f296"/><rect x="511.8" y="227.3" width="2.0" height="2.0" rx="0.5" fill="#b2f296"/><rect x="514.5" y="234.6" width="2.0" height="2.0" rx="0.5" fill="#b2f296"/><rect x="519.7" y="230.7" width="2.0" height="2.0" rx="0.5" fill="#1acee3"/><rect x="519.0" y="235.9" width="2.0" height="2.0" rx="0.5" fill="#1acee3"/><rect x="516.9" y="229.0" width="2.0" height="2.0" rx="0.5" fill="#1acee3"/><rect x="518.3" y="233.3" width="2.0" height="2.0" rx="0.5" fill="#1acee3"/><rect x="517.1" y="236.6" width="2.0" height="2.0" rx="0.5" fill="#4df2ce"/><rect x="515.8" y="228.6" width="2.0" height="2.0" rx="0.5" fill="#4df2ce"/><rect x="512.5" y="227.0" width="2.0" height="2.0" rx="0.5" fill="#ff964f"/><rect x="514.3" y="227.0" width="2.0" height="2.0" rx="0.5" fill="#ff964f"/><rect x="512.5" y="229.0" width="2.0" height="2.0" rx="0.5" fill="#ff964f"/><rect x="514.5" y="229.0" width="2.0" height="2.0" rx="0.5" fill="#ff964f"/><rect x="517.3" y="228.0" width="2.0" height="2.0" rx="0.5" fill="#ff964f"/><rect x="512.7" y="231.0" width="2.0" height="2.0" rx="0.5" fill="#ff964f"/><rect x="514.7" y="231.0" width="2.0" height="2.0" rx="0.5" fill="#ff964f"/><rect x="516.6" y="231.0" width="2.0" height="2.0" rx="0.5" fill="#ff964f"/><rect x="518.0" y="231.2" width="2.0" height="2.0" rx="0.5" fill="#ff964f"/><rect x="513.3" y="233.0" width="2.0" height="2.0" rx="0.5" fill="#ff964f"/><rect x="515.3" y="233.0" width="2.0" height="2.0" rx="0.5" fill="#ff964f"/><rect x="517.2" y="232.8" width="2.0" height="2.0" rx="0.5" fill="#ff964f"/><rect x="514.8" y="234.8" width="2.0" height="2.0" rx="0.5" fill="#ff964f"/><rect x="516.6" y="234.4" width="2.0" height="2.0" rx="0.5" fill="#ff964f"/><rect x="515.0" y="236.2" width="2.0" height="2.0" rx="0.5" fill="#ff964f"/><rect x="514.0" y="230.0" width="2.0" height="2.0" rx="0.5" fill="#ff964f"/><rect x="516.0" y="232.0" width="2.0" height="2.0" rx="0.5" fill="#ff964f"/><rect x="513.5" y="228.0" width="2.0" height="2.0" rx="0.5" fill="#ff964f"/><rect x="515.5" y="230.5" width="2.0" height="2.0" rx="0.5" fill="#ff964f"/><rect x="523.0" y="230.0" width="2.0" height="2.0" rx="0.5" fill="#ff964f"/><rect x="267.0" y="341.8" width="2.0" height="2.0" rx="0.5" fill="#1a96f3"/><rect x="530.7" y="437.0" width="2.0" height="2.0" rx="0.5" fill="#b2f296"/></g>
<path d="M559.50 355.50 L560.59 358.70 L563.97 358.75 L561.26 360.77 L562.26 364.00 L559.50 362.05 L556.74 364.00 L557.74 360.77 L555.03 358.75 L558.41 358.70 Z" fill="#ffff00" stroke="#008000" stroke-width="1.5" stroke-linejoin="round"/>
<path d="M512.50 397.50 L513.59 400.70 L516.97 400.75 L514.26 402.77 L515.26 406.00 L512.50 404.05 L509.74 406.00 L510.74 402.77 L508.03 400.75 L511.41 400.70 Z" fill="#ffff00" stroke="#008000" stroke-width="1.5" stroke-linejoin="round"/>
<path d="M534.30 400.30 L535.39 403.50 L538.77 403.55 L536.06 405.57 L537.06 408.80 L534.30 406.85 L531.54 408.80 L532.54 405.57 L529.83 403.55 L533.21 403.50 Z" fill="#ffff00" stroke="#008000" stroke-width="1.5" stroke-linejoin="round"/>
<path d="M568.40 395.30 L569.49 398.50 L572.87 398.55 L570.16 400.57 L571.16 403.80 L568.40 401.85 L565.64 403.80 L566.64 400.57 L563.93 398.55 L567.31 398.50 Z" fill="#ffff00" stroke="#008000" stroke-width="1.5" stroke-linejoin="round"/>
<path d="M557.30 410.30 L558.39 413.50 L561.77 413.55 L559.06 415.57 L560.06 418.80 L557.30 416.85 L554.54 418.80 L555.54 415.57 L552.83 413.55 L556.21 413.50 Z" fill="#ffff00" stroke="#008000" stroke-width="1.5" stroke-linejoin="round"/>
<path d="M540.30 421.50 L541.39 424.70 L544.77 424.75 L542.06 426.77 L543.06 430.00 L540.30 428.05 L537.54 430.00 L538.54 426.77 L535.83 424.75 L539.21 424.70 Z" fill="#ffff00" stroke="#008000" stroke-width="1.5" stroke-linejoin="round"/>
<path d="M508.50 431.60 L509.59 434.80 L512.97 434.85 L510.26 436.87 L511.26 440.10 L508.50 438.15 L505.74 440.10 L506.74 436.87 L504.03 434.85 L507.41 434.80 Z" fill="#ffff00" stroke="#008000" stroke-width="1.5" stroke-linejoin="round"/>
<path d="M573.60 442.60 L574.69 445.80 L578.07 445.85 L575.36 447.87 L576.36 451.10 L573.60 449.15 L570.84 451.10 L571.84 447.87 L569.13 445.85 L572.51 445.80 Z" fill="#ffff00" stroke="#008000" stroke-width="1.5" stroke-linejoin="round"/>
<path d="M537.30 450.30 L538.39 453.50 L541.77 453.55 L539.06 455.57 L540.06 458.80 L537.30 456.85 L534.54 458.80 L535.54 455.57 L532.83 453.55 L536.21 453.50 Z" fill="#ffff00" stroke="#008000" stroke-width="1.5" stroke-linejoin="round"/>
<path d="M510.40 453.00 L511.49 456.20 L514.87 456.25 L512.16 458.27 L513.16 461.50 L510.40 459.55 L507.64 461.50 L508.64 458.27 L505.93 456.25 L509.31 456.20 Z" fill="#ffff00" stroke="#008000" stroke-width="1.5" stroke-linejoin="round"/>
<path d="M546.40 468.30 L547.49 471.50 L550.87 471.55 L548.16 473.57 L549.16 476.80 L546.40 474.85 L543.64 476.80 L544.64 473.57 L541.93 471.55 L545.31 471.50 Z" fill="#ffff00" stroke="#008000" stroke-width="1.5" stroke-linejoin="round"/>
<path d="M546.60 515.50 L547.69 518.70 L551.07 518.75 L548.36 520.77 L549.36 524.00 L546.60 522.05 L543.84 524.00 L544.84 520.77 L542.13 518.75 L545.51 518.70 Z" fill="#ffff00" stroke="#008000" stroke-width="1.5" stroke-linejoin="round"/>
<line x1="243" y1="87.5" x2="752" y2="87.5" stroke="#555" stroke-width="1"/>
<line x1="243" y1="122.5" x2="752" y2="122.5" stroke="#555" stroke-width="1"/>
<line x1="789.5" y1="158" x2="789.5" y2="652" stroke="#555" stroke-width="1"/>
<line x1="825.5" y1="158" x2="825.5" y2="652" stroke="#555" stroke-width="1"/>
<g><rect x="523.6" y="54.0" width="2.0" height="2.0" rx="0.5" fill="#b2f296"/><rect x="515.8" y="63.7" width="2.0" height="2.0" rx="0.5" fill="#1acee3"/><rect x="513.1" y="67.9" width="2.0" height="2.0" rx="0.5" fill="#1acee3"/><rect x="519.3" y="77.3" width="2.0" height="2.0" rx="0.5" fill="#1acee3"/><rect x="517.2" y="82.3" width="2.0" height="2.0" rx="0.5" fill="#1acee3"/><rect x="513.1" y="75.5" width="2.0" height="2.0" rx="0.5" fill="#1a96f3"/><rect x="513.3" y="72.5" width="2.0" height="2.0" rx="0.5" fill="#ff964f"/><rect x="512.8" y="73.3" width="2.0" height="2.0" rx="0.5" fill="#ff964f"/><rect x="515.8" y="80.1" width="2.0" height="2.0" rx="0.5" fill="#ff964f"/><rect x="512.3" y="74.9" width="2.0" height="2.0" rx="0.5" fill="#b2f296"/><rect x="512.4" y="79.2" width="2.0" height="2.0" rx="0.5" fill="#b2f296"/><rect x="522.9" y="99.9" width="2.0" height="2.0" rx="0.5" fill="#b2f296"/><rect x="530.5" y="110.7" width="2.0" height="2.0" rx="0.5" fill="#b2f296"/><rect x="524.0" y="113.3" width="2.0" height="2.0" rx="0.5" fill="#b2f296"/><rect x="524.1" y="118.9" width="2.0" height="2.0" rx="0.5" fill="#b2f296"/><rect x="517.9" y="121.0" width="2.0" height="2.0" rx="0.5" fill="#b2f296"/><rect x="511.0" y="113.5" width="2.0" height="2.0" rx="0.5" fill="#b2f296"/><rect x="511.0" y="117.3" width="2.0" height="2.0" rx="0.5" fill="#b2f296"/><rect x="516.9" y="115.1" width="2.0" height="2.0" rx="0.5" fill="#b2f296"/><rect x="515.8" y="84.5" width="2.0" height="2.0" rx="0.5" fill="#b2f296"/><rect x="509.9" y="95.9" width="2.0" height="2.0" rx="0.5" fill="#1a96f3"/><rect x="508.7" y="104.5" width="2.0" height="2.0" rx="0.5" fill="#1a96f3"/><rect x="509.4" y="107.1" width="2.0" height="2.0" rx="0.5" fill="#1a96f3"/><rect x="512.6" y="88.7" width="2.0" height="2.0" rx="0.5" fill="#1a96f3"/><rect x="517.9" y="104.5" width="2.0" height="2.0" rx="0.5" fill="#1acee3"/><rect x="518.5" y="113.0" width="2.0" height="2.0" rx="0.5" fill="#1acee3"/><rect x="514.0" y="119.9" width="2.0" height="2.0" rx="0.5" fill="#1acee3"/><rect x="517.2" y="112.5" width="2.0" height="2.0" rx="0.5" fill="#1acee3"/><rect x="519.3" y="111.5" width="2.0" height="2.0" rx="0.5" fill="#1acee3"/><rect x="517.4" y="102.5" width="2.0" height="2.0" rx="0.5" fill="#1acee3"/><rect x="512.0" y="102.5" width="2.0" height="2.0" rx="0.5" fill="#4df2ce"/><rect x="514.0" y="103.5" width="2.0" height="2.0" rx="0.5" fill="#4df2ce"/><rect x="512.5" y="107.0" width="2.0" height="2.0" rx="0.5" fill="#4df2ce"/><rect x="514.5" y="108.5" width="2.0" height="2.0" rx="0.5" fill="#4df2ce"/><rect x="513.0" y="110.5" width="2.0" height="2.0" rx="0.5" fill="#4df2ce"/><rect x="515.0" y="110.0" width="2.0" height="2.0" rx="0.5" fill="#4df2ce"/><rect x="513.5" y="113.0" width="2.0" height="2.0" rx="0.5" fill="#4df2ce"/><rect x="515.5" y="112.0" width="2.0" height="2.0" rx="0.5" fill="#4df2ce"/><rect x="513.2" y="115.5" width="2.0" height="2.0" rx="0.5" fill="#4df2ce"/><rect x="516.0" y="106.0" width="2.0" height="2.0" rx="0.5" fill="#4df2ce"/><rect x="511.0" y="105.5" width="2.0" height="2.0" rx="0.5" fill="#b2f296"/><rect x="515.5" y="105.0" width="2.0" height="2.0" rx="0.5" fill="#b2f296"/><rect x="517.0" y="106.5" width="2.0" height="2.0" rx="0.5" fill="#b2f296"/><rect x="512.0" y="109.0" width="2.0" height="2.0" rx="0.5" fill="#b2f296"/><rect x="516.8" y="109.8" width="2.0" height="2.0" rx="0.5" fill="#b2f296"/><rect x="515.8" y="111.4" width="2.0" height="2.0" rx="0.5" fill="#b2f296"/><rect x="514.2" y="116.5" width="2.0" height="2.0" rx="0.5" fill="#b2f296"/><rect x="514.3" y="85.0" width="2.0" height="2.0" rx="0.5" fill="#ff964f"/><rect x="514.8" y="87.0" width="2.0" height="2.0" rx="0.5" fill="#ff964f"/><rect x="515.5" y="88.5" width="2.0" height="2.0" rx="0.5" fill="#ff964f"/><rect x="516.5" y="90.0" width="2.0" height="2.0" rx="0.5" fill="#ff964f"/><rect x="515.0" y="90.5" width="2.0" height="2.0" rx="0.5" fill="#ff964f"/><rect x="513.8" y="91.5" width="2.0" height="2.0" rx="0.5" fill="#ff964f"/><rect x="515.3" y="92.5" width="2.0" height="2.0" rx="0.5" fill="#ff964f"/><rect x="513.2" y="93.5" width="2.0" height="2.0" rx="0.5" fill="#ff964f"/><rect x="514.5" y="94.5" width="2.0" height="2.0" rx="0.5" fill="#ff964f"/><rect x="513.3" y="96.0" width="2.0" height="2.0" rx="0.5" fill="#ff964f"/><rect x="515.0" y="96.5" width="2.0" height="2.0" rx="0.5" fill="#ff964f"/><rect x="516.2" y="97.5" width="2.0" height="2.0" rx="0.5" fill="#ff964f"/><rect x="513.5" y="98.5" width="2.0" height="2.0" rx="0.5" fill="#ff964f"/><rect x="515.0" y="99.0" width="2.0" height="2.0" rx="0.5" fill="#ff964f"/><rect x="517.5" y="98.5" width="2.0" height="2.0" rx="0.5" fill="#ff964f"/><rect x="514.0" y="100.3" width="2.0" height="2.0" rx="0.5" fill="#ff964f"/><rect x="516.0" y="100.0" width="2.0" height="2.0" rx="0.5" fill="#ff964f"/><rect x="516.8" y="89.0" width="2.0" height="2.0" rx="0.5" fill="#ff964f"/><rect x="513.5" y="95.0" width="2.0" height="2.0" rx="0.5" fill="#ff964f"/><rect x="514.6" y="97.8" width="2.0" height="2.0" rx="0.5" fill="#ff964f"/><rect x="522.9" y="110.1" width="2.0" height="2.0" rx="0.5" fill="#ff964f"/><rect x="517.9" y="107.7" width="2.0" height="2.0" rx="0.5" fill="#ff964f"/><rect x="513.3" y="113.3" width="2.0" height="2.0" rx="0.5" fill="#ff964f"/><rect x="514.7" y="105.0" width="2.0" height="2.0" rx="0.5" fill="#ff964f"/><rect x="267.3" y="86.0" width="2.0" height="2.0" rx="0.5" fill="#1a96f3"/><rect x="787.6" y="234.3" width="2.0" height="2.0" rx="0.5" fill="#b2f296"/><rect x="790.1" y="232.6" width="2.0" height="2.0" rx="0.5" fill="#b2f296"/><rect x="792.7" y="233.9" width="2.0" height="2.0" rx="0.5" fill="#b2f296"/><rect x="795.3" y="230.0" width="2.0" height="2.0" rx="0.5" fill="#b2f296"/><rect x="794.0" y="235.1" width="2.0" height="2.0" rx="0.5" fill="#b2f296"/><rect x="831.7" y="227.9" width="2.0" height="2.0" rx="0.5" fill="#b2f296"/><rect x="836.0" y="226.6" width="2.0" height="2.0" rx="0.5" fill="#b2f296"/><rect x="857.7" y="233.0" width="2.0" height="2.0" rx="0.5" fill="#b2f296"/><rect x="825.7" y="232.0" width="2.0" height="2.0" rx="0.5" fill="#b2f296"/><rect x="821.0" y="229.6" width="2.0" height="2.0" rx="0.5" fill="#b2f296"/><rect x="814.1" y="234.3" width="2.0" height="2.0" rx="0.5" fill="#b2f296"/><rect x="807.3" y="234.7" width="2.0" height="2.0" rx="0.5" fill="#b2f296"/><rect x="798.5" y="234.5" width="2.0" height="2.0" rx="0.5" fill="#b2f296"/><rect x="811.0" y="233.5" width="2.0" height="2.0" rx="0.5" fill="#b2f296"/><rect x="805.5" y="232.2" width="2.0" height="2.0" rx="0.5" fill="#b2f296"/><rect x="802.8" y="233.8" width="2.0" height="2.0" rx="0.5" fill="#b2f296"/><rect x="788.4" y="235.1" width="2.0" height="2.0" rx="0.5" fill="#1acee3"/><rect x="796.6" y="236.4" width="2.0" height="2.0" rx="0.5" fill="#1acee3"/><rect x="800.0" y="232.1" width="2.0" height="2.0" rx="0.5" fill="#1acee3"/><rect x="801.3" y="235.6" width="2.0" height="2.0" rx="0.5" fill="#1acee3"/><rect x="803.9" y="236.0" width="2.0" height="2.0" rx="0.5" fill="#1acee3"/><rect x="806.4" y="233.9" width="2.0" height="2.0" rx="0.5" fill="#1acee3"/><rect x="828.5" y="229.8" width="2.0" height="2.0" rx="0.5" fill="#1acee3"/><rect x="833.4" y="230.6" width="2.0" height="2.0" rx="0.5" fill="#1acee3"/><rect x="843.5" y="230.6" width="2.0" height="2.0" rx="0.5" fill="#1acee3"/><rect x="847.8" y="228.0" width="2.0" height="2.0" rx="0.5" fill="#1acee3"/><rect x="818.4" y="228.3" width="2.0" height="2.0" rx="0.5" fill="#1acee3"/><rect x="799.5" y="234.0" width="2.0" height="2.0" rx="0.5" fill="#1acee3"/><rect x="802.0" y="234.5" width="2.0" height="2.0" rx="0.5" fill="#1acee3"/><rect x="794.4" y="231.5" width="2.0" height="2.0" rx="0.5" fill="#4df2ce"/><rect x="798.0" y="233.9" width="2.0" height="2.0" rx="0.5" fill="#4df2ce"/><rect x="809.7" y="236.6" width="2.0" height="2.0" rx="0.5" fill="#4df2ce"/><rect x="804.7" y="233.0" width="2.0" height="2.0" rx="0.5" fill="#4df2ce"/><rect x="807.5" y="232.2" width="2.0" height="2.0" rx="0.5" fill="#4df2ce"/><rect x="804.9" y="238.0" width="2.0" height="2.0" rx="0.5" fill="#1a96f3"/><rect x="813.7" y="236.9" width="2.0" height="2.0" rx="0.5" fill="#1a96f3"/><rect x="820.0" y="237.7" width="2.0" height="2.0" rx="0.5" fill="#1a96f3"/><rect x="816.7" y="234.3" width="2.0" height="2.0" rx="0.5" fill="#1a96f3"/><rect x="821.9" y="234.9" width="2.0" height="2.0" rx="0.5" fill="#1a96f3"/><rect x="835.6" y="231.7" width="2.0" height="2.0" rx="0.5" fill="#1a96f3"/><rect x="815.8" y="235.0" width="2.0" height="2.0" rx="0.5" fill="#1a96f3"/><rect x="798.9" y="229.7" width="2.0" height="2.0" rx="0.5" fill="#ff964f"/><rect x="801.7" y="231.1" width="2.0" height="2.0" rx="0.5" fill="#ff964f"/><rect x="795.7" y="233.4" width="2.0" height="2.0" rx="0.5" fill="#ff964f"/><rect x="804.0" y="232.8" width="2.0" height="2.0" rx="0.5" fill="#ff964f"/><rect x="809.4" y="227.9" width="2.0" height="2.0" rx="0.5" fill="#ff964f"/><rect x="817.7" y="227.0" width="2.0" height="2.0" rx="0.5" fill="#ff964f"/><rect x="825.1" y="230.3" width="2.0" height="2.0" rx="0.5" fill="#ff964f"/><rect x="830.4" y="232.6" width="2.0" height="2.0" rx="0.5" fill="#ff964f"/><rect x="825.0" y="236.0" width="2.0" height="2.0" rx="0.5" fill="#ff964f"/><rect x="838.4" y="227.0" width="2.0" height="2.0" rx="0.5" fill="#ff964f"/><rect x="838.8" y="228.9" width="2.0" height="2.0" rx="0.5" fill="#ff964f"/><rect x="821.4" y="234.3" width="2.0" height="2.0" rx="0.5" fill="#ff964f"/><rect x="808.8" y="231.0" width="2.0" height="2.0" rx="0.5" fill="#ff964f"/><rect x="810.5" y="229.5" width="2.0" height="2.0" rx="0.5" fill="#ff964f"/><rect x="811.5" y="231.8" width="2.0" height="2.0" rx="0.5" fill="#ff964f"/><rect x="812.5" y="228.8" width="2.0" height="2.0" rx="0.5" fill="#ff964f"/><rect x="813.3" y="231.0" width="2.0" height="2.0" rx="0.5" fill="#ff964f"/><rect x="814.5" y="229.0" width="2.0" height="2.0" rx="0.5" fill="#ff964f"/><rect x="815.3" y="231.8" width="2.0" height="2.0" rx="0.5" fill="#ff964f"/><rect x="816.5" y="230.0" width="2.0" height="2.0" rx="0.5" fill="#ff964f"/><rect x="817.5" y="232.0" width="2.0" height="2.0" rx="0.5" fill="#ff964f"/><rect x="818.5" y="230.5" width="2.0" height="2.0" rx="0.5" fill="#ff964f"/><rect x="819.5" y="231.5" width="2.0" height="2.0" rx="0.5" fill="#ff964f"/><rect x="820.5" y="229.5" width="2.0" height="2.0" rx="0.5" fill="#ff964f"/><rect x="821.5" y="231.5" width="2.0" height="2.0" rx="0.5" fill="#ff964f"/><rect x="822.5" y="230.0" width="2.0" height="2.0" rx="0.5" fill="#ff964f"/><rect x="815.0" y="228.5" width="2.0" height="2.0" rx="0.5" fill="#ff964f"/><rect x="812.0" y="233.5" width="2.0" height="2.0" rx="0.5" fill="#ff964f"/><rect x="810.0" y="232.8" width="2.0" height="2.0" rx="0.5" fill="#ff964f"/><rect x="817.2" y="228.8" width="2.0" height="2.0" rx="0.5" fill="#ff964f"/><rect x="819.0" y="233.0" width="2.0" height="2.0" rx="0.5" fill="#ff964f"/><rect x="813.8" y="232.6" width="2.0" height="2.0" rx="0.5" fill="#ff964f"/><rect x="816.0" y="233.0" width="2.0" height="2.0" rx="0.5" fill="#ff964f"/><rect x="824.5" y="342.0" width="2.0" height="2.0" rx="0.5" fill="#1a96f3"/><rect x="798.5" y="436.0" width="2.0" height="2.0" rx="0.5" fill="#b2f296"/></g>
<rect x="242" y="54" width="620" height="103.5" fill="none" stroke="#000" stroke-width="2"/>
<rect x="241" y="156" width="622" height="3" fill="#000"/>
<rect x="751" y="53" width="3" height="601" fill="#000"/>
<rect x="861" y="53" width="2" height="601" fill="#000"/>
<rect x="752" y="652" width="111" height="2" fill="#000"/>
<rect x="241" y="157" width="1.2" height="496" fill="#000"/>
<rect x="241" y="652.4" width="511" height="1.1" fill="#000"/>
<rect x="523.6" y="54" width="2" height="2" rx="0.5" fill="#b2f296"/>
<rect x="158" y="690.5" width="787.5" height="37.5" fill="url(#rb)" stroke="#000" stroke-width="1"/>
<text x="300.2" y="46.0" font-size="23.0" textLength="503.5" lengthAdjust="spacing">SAETTA Lightning Mapping Array - 17/11/04</text>
<text x="219.9" y="52.1" font-size="10.4" textLength="12.4" lengthAdjust="spacing">15</text>
<text x="219.9" y="86.9" font-size="10.4" textLength="12.4" lengthAdjust="spacing">10</text>
<text x="219.9" y="122.2" font-size="10.4">5</text>
<text x="219.9" y="156.5" font-size="10.4">0</text>
<text x="186.3" y="105.3" font-size="12.2" textLength="18.5" lengthAdjust="spacing">Km</text>
<text x="199.3" y="211.6" font-size="10.4" textLength="35.3" lengthAdjust="spacing">44.5°N</text>
<text x="209.4" y="262.5" font-size="10.4" textLength="25.2" lengthAdjust="spacing">44°N</text>
<text x="199.3" y="312.6" font-size="10.4" textLength="35.3" lengthAdjust="spacing">43.5°N</text>
<text x="209.4" y="363.0" font-size="10.4" textLength="25.2" lengthAdjust="spacing">43°N</text>
<text x="199.3" y="412.7" font-size="10.4" textLength="35.3" lengthAdjust="spacing">42.5°N</text>
<text x="209.4" y="462.0" font-size="10.4" textLength="25.2" lengthAdjust="spacing">42°N</text>
<text x="199.3" y="510.9" font-size="10.4" textLength="35.3" lengthAdjust="spacing">41.5°N</text>
<text x="209.4" y="560.0" font-size="10.4" textLength="25.2" lengthAdjust="spacing">41°N</text>
<text x="199.3" y="607.9" font-size="10.4" textLength="35.3" lengthAdjust="spacing">40.5°N</text>
<text x="209.4" y="655.9" font-size="10.4" textLength="25.2" lengthAdjust="spacing">40°N</text>
<text x="233.1" y="666.8" font-size="10.4" textLength="17.8" lengthAdjust="spacing">5°E</text>
<text x="263.8" y="666.8" font-size="10.4" textLength="27.5" lengthAdjust="spacing">5.5°E</text>
<text x="305.1" y="666.8" font-size="10.4" textLength="17.8" lengthAdjust="spacing">6°E</text>
<text x="336.8" y="666.8" font-size="10.4" textLength="27.5" lengthAdjust="spacing">6.5°E</text>
<text x="378.1" y="666.8" font-size="10.4" textLength="17.8" lengthAdjust="spacing">7°E</text>
<text x="409.8" y="666.8" font-size="10.4" textLength="27.5" lengthAdjust="spacing">7.5°E</text>
<text x="451.1" y="666.8" font-size="10.4" textLength="17.8" lengthAdjust="spacing">8°E</text>
<text x="482.8" y="666.8" font-size="10.4" textLength="27.5" lengthAdjust="spacing">8.5°E</text>
<text x="524.1" y="666.8" font-size="10.4" textLength="17.8" lengthAdjust="spacing">9°E</text>
<text x="555.8" y="666.8" font-size="10.4" textLength="27.5" lengthAdjust="spacing">9.5°E</text>
<text x="593.9" y="666.8" font-size="10.4" textLength="24.2" lengthAdjust="spacing">10°E</text>
<text x="625.6" y="666.8" font-size="10.4" textLength="33.8" lengthAdjust="spacing">10.5°E</text>
<text x="666.9" y="666.8" font-size="10.4" textLength="24.2" lengthAdjust="spacing">11°E</text>
<text x="698.6" y="666.8" font-size="10.4" textLength="33.8" lengthAdjust="spacing">11.5°E</text>
<text x="753.4" y="666.8" font-size="10.4">0</text>
<text x="789.6" y="666.8" font-size="10.4">5</text>
<text x="825.8" y="666.8" font-size="10.4" textLength="11.8" lengthAdjust="spacing">10</text>
<text x="862.7" y="666.8" font-size="10.4" textLength="11.8" lengthAdjust="spacing">15</text>
<text x="807.6" y="676.3" font-size="12.2" textLength="18.3" lengthAdjust="spacing">Km</text>
<text x="770.0" y="83.9" font-size="10.4">6</text>
<text x="783.1" y="83.9" font-size="10.4">:</text>
<text x="803.3" y="83.9" font-size="10.4" textLength="24.9" lengthAdjust="spacing">1110</text>
<text x="770.0" y="93.8" font-size="10.4" style="fill:#ff0000">7</text>
<text x="783.1" y="93.8" font-size="10.4" style="fill:#ff0000">:</text>
<text x="806.5" y="93.8" font-size="10.4" textLength="18.6" lengthAdjust="spacing" style="fill:#ff0000">128</text>
<text x="770.0" y="105.0" font-size="10.4">8</text>
<text x="783.1" y="105.0" font-size="10.4">:</text>
<text x="809.7" y="105.0" font-size="10.4" textLength="12.2" lengthAdjust="spacing">29</text>
<text x="770.0" y="114.8" font-size="10.4">9</text>
<text x="783.1" y="114.8" font-size="10.4">:</text>
<text x="812.9" y="114.8" font-size="10.4">9</text>
<text x="766.9" y="125.8" font-size="10.4" textLength="11.9" lengthAdjust="spacing">10</text>
<text x="786.3" y="125.8" font-size="10.4">:</text>
<text x="815.9" y="125.8" font-size="10.4">1</text>
<text x="766.9" y="135.9" font-size="10.4" textLength="11.9" lengthAdjust="spacing">11</text>
<text x="786.3" y="135.9" font-size="10.4">:</text>
<text x="815.9" y="135.9" font-size="10.4">1</text>
<text x="766.9" y="145.8" font-size="10.4" textLength="11.9" lengthAdjust="spacing">12</text>
<text x="786.3" y="145.8" font-size="10.4">:</text>
<text x="815.9" y="145.8" font-size="10.4">0</text>
<line x1="158.5" y1="728" x2="158.5" y2="731" stroke="#000" stroke-width="1"/>
<text x="158.3" y="743.0" font-size="10.4" text-anchor="middle">0</text>
<line x1="316.0" y1="728" x2="316.0" y2="731" stroke="#000" stroke-width="1"/>
<text x="315.8" y="743.0" font-size="10.4" text-anchor="middle">2</text>
<line x1="473.5" y1="728" x2="473.5" y2="731" stroke="#000" stroke-width="1"/>
<text x="473.3" y="743.0" font-size="10.4" text-anchor="middle">4</text>
<line x1="631.0" y1="728" x2="631.0" y2="731" stroke="#000" stroke-width="1"/>
<text x="630.8" y="743.0" font-size="10.4" text-anchor="middle">6</text>
<line x1="788.5" y1="728" x2="788.5" y2="731" stroke="#000" stroke-width="1"/>
<text x="788.3" y="743.0" font-size="10.4" text-anchor="middle">8</text>
<line x1="946.0" y1="728" x2="946.0" y2="731" stroke="#000" stroke-width="1"/>
<text x="939.6" y="743.0" font-size="10.4" textLength="12.0" lengthAdjust="spacing">10</text>
<text x="433.0" y="718.3" font-size="19.5" textLength="249.5" lengthAdjust="spacing">from 20:00:00 to 20:09:59</text>
</svg></body></html>
